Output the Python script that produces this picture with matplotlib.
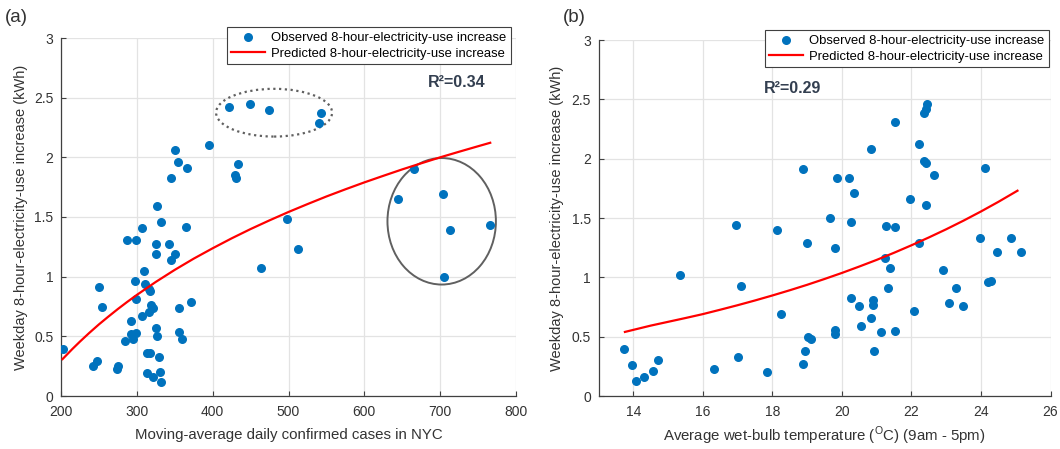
import matplotlib
matplotlib.use('agg')
import numpy as np
import matplotlib.pyplot as plt
from matplotlib.patches import Ellipse
from matplotlib.ticker import FormatStrFormatter

plt.rcParams['font.family'] = ['Liberation Sans', 'DejaVu Sans']
plt.rcParams['mathtext.fontset'] = 'custom'
plt.rcParams['mathtext.rm'] = 'Liberation Sans'

# (a) moving-average daily confirmed cases vs. electricity-use increase
cases_x = [203, 242.6, 247, 249.7, 254.5, 273.9, 274.8, 284.8, 287.5, 292.3,
           292.7, 295, 298.5, 298.5, 298, 299, 306.5, 306.9, 310, 311,
           313.5, 313.9, 315.7, 316.5, 317, 318, 318.7, 321, 321.4, 325,
           325, 325.7, 326, 327, 329.7, 331, 331.5, 332, 342, 345,
           345.5, 350.4, 350.4, 354, 356, 356, 359.6, 365, 365.8, 371.5,
           395.6, 421.6, 429, 430.5, 433.9, 449.7, 463.5, 474.8, 497.8, 512.7,
           540, 543.4, 644, 666, 704, 705.7, 713, 766]
cases_y = [0.39, 0.25, 0.29, 0.91, 0.75, 0.23, 0.25, 0.46, 1.31, 0.52,
           0.63, 0.48, 0.53, 1.31, 0.96, 0.81, 1.41, 0.67, 1.05, 0.94,
           0.36, 0.19, 0.90, 0.70, 0.36, 0.88, 0.76, 0.16, 0.74, 1.27,
           0.57, 1.19, 0.50, 1.59, 0.33, 0.20, 0.12, 1.46, 1.27, 1.14,
           1.83, 2.06, 1.19, 1.96, 0.74, 0.54, 0.48, 1.42, 1.91, 0.79,
           2.10, 2.42, 1.85, 1.83, 1.94, 2.45, 1.07, 2.40, 1.48, 1.23,
           2.29, 2.37, 1.65, 1.90, 1.69, 1.00, 1.39, 1.43]
cases_fit_x = [202, 215, 225, 237, 250, 262, 275, 287, 300, 325, 350, 375, 400,
               425, 450, 475, 500, 525, 550, 575, 600, 625, 650, 675, 700, 725,
               750, 766]
cases_fit_y = [0.309, 0.394, 0.456, 0.527, 0.600, 0.663, 0.729, 0.787, 0.847, 0.956,
               1.057, 1.151, 1.238, 1.321, 1.399, 1.472, 1.542, 1.608, 1.672, 1.732,
               1.790, 1.845, 1.899, 1.950, 2.000, 2.047, 2.093, 2.122]

# (b) average wet-bulb temperature vs. electricity-use increase
temp_x = [13.74, 13.95, 14.08, 14.30, 14.57, 14.72, 15.35, 16.31, 16.95, 17.01,
          17.09, 17.84, 18.13, 18.26, 18.89, 18.89, 18.95, 19.0, 19.02, 19.10,
          19.65, 19.81, 19.86, 19.81, 19.81, 20.21, 20.36, 20.27, 20.27, 20.48,
          20.55, 20.84, 20.90, 20.90, 20.84, 20.91, 21.13, 21.26, 21.25, 21.39,
          21.33, 21.54, 21.54, 21.54, 21.95, 22.08, 22.23, 22.23, 22.35, 22.43,
          22.43, 22.37, 22.43, 22.44, 22.65, 22.91, 23.07, 23.28, 23.48, 23.96,
          24.11, 24.21, 24.30, 24.45, 24.87, 25.16]
temp_y = [0.40, 0.26, 0.13, 0.16, 0.21, 0.30, 1.02, 0.23, 1.44, 0.33,
          0.93, 0.20, 1.40, 0.69, 1.91, 0.27, 0.38, 1.29, 0.50, 0.48,
          1.50, 1.25, 1.84, 0.56, 0.52, 1.84, 1.71, 1.47, 0.83, 0.76,
          0.59, 2.08, 0.81, 0.77, 0.655, 0.38, 0.54, 1.43, 1.16, 1.08,
          0.91, 2.31, 1.42, 0.55, 1.66, 0.72, 2.12, 1.29, 1.98, 1.96,
          1.61, 2.385, 2.42, 2.46, 1.86, 1.06, 0.78, 0.91, 0.76, 1.33,
          1.92, 0.96, 0.97, 1.21, 1.33, 1.21]
temp_fit_x = [13.76, 14.5, 15, 15.5, 16, 16.5, 17, 17.5, 18, 18.5, 19, 19.5, 20,
              20.5, 21, 21.5, 22, 22.5, 23, 23.5, 24, 24.5, 25.05]
temp_fit_y = [0.54, 0.593, 0.625, 0.657, 0.69, 0.727, 0.765, 0.805, 0.847, 0.891,
              0.937, 0.986, 1.037, 1.091, 1.147, 1.207, 1.27, 1.336, 1.405, 1.478,
              1.555, 1.636, 1.73]

ylabel = 'Weekday 8-hour-electricity-use increase (kWh)'
obs_label = 'Observed 8-hour-electricity-use increase'
pred_label = 'Predicted 8-hour-electricity-use increase'
blue = '#0072BD'
axis_col = '#404040'
text_col = '#333333'


def style_axes(ax, xlim, xticks):
    ax.set_xlim(*xlim)
    ax.set_ylim(0, 3)
    ax.set_xticks(xticks)
    ax.set_yticks(np.arange(0, 3.01, 0.5))
    ax.yaxis.set_major_formatter(FormatStrFormatter('%g'))
    ax.grid(True, color='#e3e3e3', linewidth=0.9)
    ax.set_axisbelow(True)
    for s in ['top', 'right']:
        ax.spines[s].set_visible(False)
    for s in ['left', 'bottom']:
        ax.spines[s].set_color(axis_col)
        ax.spines[s].set_linewidth(0.9)
    ax.tick_params(direction='in', length=3.5, colors=axis_col, labelsize=10,
                   labelcolor=text_col)
    ax.tick_params(axis='x', pad=6.5)
    ax.tick_params(axis='y', pad=5.5)


def add_legend(ax, anchor):
    leg = ax.legend(loc='upper right', bbox_to_anchor=anchor, borderaxespad=0,
                    fontsize=9.4, fancybox=False, edgecolor=axis_col, framealpha=1,
                    handlelength=2.6, handletextpad=0.45, borderpad=0.35,
                    labelspacing=0.3)
    leg.get_frame().set_linewidth(0.8)


fig = plt.figure(figsize=(10.6, 4.49), dpi=100)

ax1 = fig.add_axes([61 / 1060, 1 - 396 / 449, 455 / 1060, 358 / 449])
style_axes(ax1, (200, 800), range(200, 801, 100))
ax1.scatter(cases_x, cases_y, s=30, color=blue, zorder=3, label=obs_label)
ax1.plot(cases_fit_x, cases_fit_y, color='#ff0000', lw=1.6, zorder=4, label=pred_label)
ax1.add_patch(Ellipse((481, 2.374), 153, 0.40, fill=False, edgecolor='#606060',
                      linestyle=(0, (1, 1.6)), linewidth=1.6, zorder=2))
ax1.add_patch(Ellipse((702, 1.464), 143, 1.06, fill=False, edgecolor='#606060',
                      linewidth=1.4, zorder=2))
ax1.text(684, 2.63, 'R²=0.34', fontsize=11.5, fontweight='bold', color='#333f50',
         va='center')
ax1.set_xlabel('Moving-average daily confirmed cases in NYC', fontsize=10.8, color=text_col)
ax1.set_ylabel(ylabel, fontsize=10.5, color=text_col)
ax1.xaxis.set_label_coords(0.5, -0.088)
ax1.yaxis.set_label_coords(-0.0725, 0.5)
add_legend(ax1, (0.989, 1.031))

ax2 = fig.add_axes([598.5 / 1060, 1 - 396 / 449, 452 / 1060, 356 / 449])
style_axes(ax2, (13, 26), range(14, 27, 2))
ax2.scatter(temp_x, temp_y, s=30, color=blue, zorder=3, label=obs_label)
ax2.plot(temp_fit_x, temp_fit_y, color='#ff0000', lw=1.6, zorder=4, label=pred_label)
ax2.text(17.75, 2.59, 'R²=0.29', fontsize=11.5, fontweight='bold', color='#333f50',
         va='center')
ax2.set_xlabel(r'Average wet-bulb temperature ($^\mathrm{O}$C) (9am - 5pm)',
               fontsize=10.8, color=text_col)
ax2.set_ylabel(ylabel, fontsize=10.5, color=text_col)
ax2.xaxis.set_label_coords(0.5, -0.082)
ax2.yaxis.set_label_coords(-0.076, 0.5)
add_legend(ax2, (0.9967, 1.028))

fig.text(5 / 1060, 1 - 17 / 449, '(a)', fontsize=13.5, color=text_col, va='center')
fig.text(563 / 1060, 1 - 17 / 449, '(b)', fontsize=13.5, color=text_col, va='center')

fig.savefig('out.png', dpi=100)
